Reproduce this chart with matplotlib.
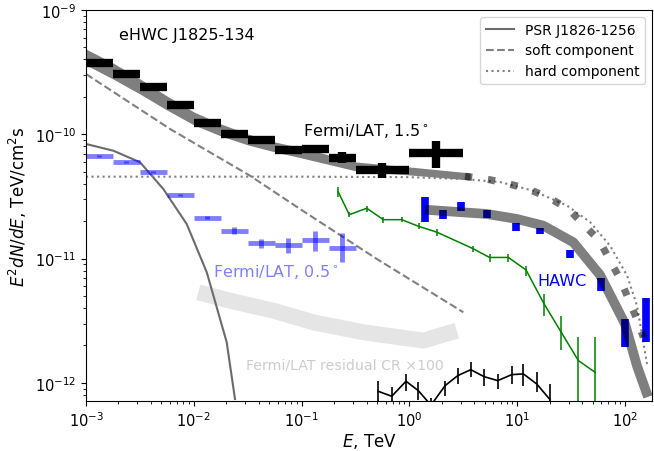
import matplotlib
matplotlib.use('Agg')
import matplotlib.pyplot as plt
import numpy as np

# all values below are log10(E / TeV) and log10(E^2 dN/dE / TeV cm^-2 s^-1)

# Fermi/LAT 1.5 deg (black)
lat15_lo = [-3, -2.75, -2.5, -2.25, -2.0, -1.75, -1.5, -1.25, -1.0, -0.75, -0.5, 0.0]
lat15_hi = [-2.75, -2.5, -2.25, -2.0, -1.75, -1.5, -1.25, -1.0, -0.75, -0.5, 0.0, 0.5]
lat15_y = [-9.426, -9.517, -9.619, -9.764, -9.909, -9.995, -10.043, -10.126, -10.116, -10.191, -10.285, -10.150]
lat15_up = [-9.41, -9.50, -9.60, -9.745, -9.89, -9.975, -10.02, -10.105, -10.09, -10.145, -10.231, -10.051]
lat15_dn = [-9.44, -9.53, -9.64, -9.785, -9.93, -10.015, -10.065, -10.15, -10.145, -10.233, -10.354, -10.271]

# Fermi/LAT 0.5 deg (light blue)
lat05_lo = [-3, -2.75, -2.5, -2.25, -2.0, -1.75, -1.5, -1.25, -1.0, -0.75]
lat05_hi = [-2.75, -2.5, -2.25, -2.0, -1.75, -1.5, -1.25, -1.0, -0.75, -0.5]
lat05_y = [-10.177, -10.220, -10.306, -10.486, -10.671, -10.776, -10.875, -10.891, -10.850, -10.915]
lat05_up = [-10.168, -10.212, -10.298, -10.478, -10.660, -10.748, -10.842, -10.837, -10.776, -10.794]
lat05_dn = [-10.186, -10.228, -10.314, -10.494, -10.682, -10.802, -10.917, -10.955, -10.936, -11.025]

# HAWC
hawc_x = [0.140, 0.309, 0.474, 0.724, 0.987, 1.211, 1.490, 1.773, 2.000, 2.195]
hawc_up = [-10.507, -10.607, -10.542, -10.607, -10.716, -10.756, -10.928, -11.156, -11.486, -11.319]
hawc_dn = [-10.703, -10.681, -10.615, -10.676, -10.776, -10.802, -10.998, -11.258, -11.709, -11.673]

# green spectrum
grn_x = [-0.660, -0.558, -0.396, -0.242, -0.071, 0.089, 0.256, 0.587, 0.743, 0.918, 1.082, 1.244, 1.406, 1.567, 1.722]
grn_y = [-10.464, -10.647, -10.595, -10.687, -10.687, -10.742, -10.788, -10.919, -10.991, -10.991, -11.092, -11.357, -11.590, -11.821, -11.915]
grn_up = [-10.424, -10.627, -10.574, -10.668, -10.663, -10.716, -10.762, -10.896, -10.963, -10.963, -11.057, -11.285, -11.459, -11.631, -11.631]
grn_dn = [-10.504, -10.667, -10.623, -10.714, -10.703, -10.762, -10.816, -10.949, -11.025, -11.025, -11.138, -11.459, -11.733, -15.0, -15.0]

# black spectrum at the bottom
blk_x = [-0.289, -0.164, -0.032, 0.083, 0.200, 0.330, 0.448, 0.569, 0.692, 0.819, 0.949, 1.057, 1.181, 1.304]
blk_y = [-12.068, -12.108, -11.987, -12.063, -12.18, -12.023, -11.942, -11.894, -11.950, -11.982, -11.934, -11.928, -12.009, -12.135]
blk_up = [-11.982, -12.035, -11.928, -11.995, -12.12, -11.982, -11.883, -11.834, -11.888, -11.928, -11.862, -11.848, -11.915, -12.009]
blk_dn = [-12.146, -12.146, -12.063, -12.135, -12.3, -12.103, -12.009, -11.955, -12.023, -12.049, -12.009, -12.023, -12.076, -12.143]

# model components
psr_x = [-3, -2.747, -2.499, -2.283, -2.066, -1.880, -1.695, -1.618]
psr_y = [-10.078, -10.132, -10.225, -10.440, -10.722, -11.110, -11.673, -12.13]
soft_x = [-3, -2.221, -1.479, -1.015, -0.303, 0.500]
soft_y = [-9.515, -9.957, -10.333, -10.601, -11.003, -11.432]
hard_x = [-3, -1, 0, 0.5, 0.84, 1.147, 1.462, 1.675, 1.861, 2.019, 2.111, 2.204]
hard_y = [-10.341, -10.341, -10.345, -10.36, -10.384, -10.454, -10.574, -10.706, -10.896, -11.138, -11.379, -11.848]

# total model, Fermi range (band)
tot_x = [-3, -2.75, -2.499, -2.249, -1.998, -1.748, -1.497, -1.247, -0.997, -0.495, 0.0, 0.562]
tot_hi = [-9.314, -9.426, -9.555, -9.692, -9.821, -9.917, -9.998, -10.062, -10.110, -10.223, -10.263, -10.311]
tot_lo = [-9.442, -9.555, -9.676, -9.805, -9.925, -10.014, -10.086, -10.142, -10.191, -10.295, -10.327, -10.368]
# total model extrapolated (thick dotted)
ext_x = [0.516, 0.741, 0.927, 1.119, 1.304, 1.474, 1.620, 1.762, 1.861, 1.954, 2.031, 2.108, 2.170]
ext_y = [-10.338, -10.365, -10.400, -10.446, -10.515, -10.601, -10.730, -10.856, -11.017, -11.164, -11.325, -11.486, -11.633]
# model through HAWC
hm_x = [0.145, 0.717, 0.995, 1.242, 1.520, 1.768, 2.000, 2.111, 2.213]
hm_y = [-10.607, -10.641, -10.681, -10.735, -10.869, -11.132, -11.526, -11.864, -12.113]
# Fermi/LAT residual CR x100
cr_x = [-1.958, -1.664, -1.263, -0.891, -0.428, 0.129, 0.439]
cr_y = [-11.271, -11.339, -11.419, -11.513, -11.593, -11.660, -11.580]


def p(a):
    return 10 ** np.asarray(a, dtype=float)


def bins(lo, hi, y, up, dn):
    x = p((np.asarray(lo) + np.asarray(hi)) / 2)
    xerr = [x - p(lo), p(hi) - x]
    yv = p(y)
    yerr = [yv - p(dn), p(up) - yv]
    return x, yv, xerr, yerr


fig = plt.figure(figsize=(6.54, 4.52), dpi=100)
ax = fig.add_axes([86 / 654, 50 / 452, 566 / 654, 391 / 452])
ax.set_xscale('log')
ax.set_yscale('log')

ax.plot(p(cr_x), p(cr_y), color='k', alpha=0.1, lw=11.5, solid_capstyle='butt')

ax.plot(p(psr_x), p(psr_y), color='0.42', lw=1.5, label='PSR J1826-1256')
ax.plot(p(soft_x), p(soft_y), color='0.5', lw=1.5, ls='--', label='soft component')
ax.plot(p(hard_x), p(hard_y), color='0.5', lw=1.5, ls=':', label='hard component')

x, y, xe, ye = bins(lat05_lo, lat05_hi, lat05_y, lat05_up, lat05_dn)
ax.errorbar(x, y, xerr=xe, yerr=ye, fmt='none', ecolor='b', alpha=0.5, elinewidth=3.5)

ax.fill_between(p(tot_x), p(tot_lo), p(tot_hi), color='k', alpha=0.5, lw=0)

x, y, xe, ye = bins(lat15_lo, lat15_hi, lat15_y, lat15_up, lat15_dn)
ax.errorbar(x, y, xerr=xe, yerr=ye, fmt='none', ecolor='k', elinewidth=6)

hv = np.sqrt(p(hawc_up) * p(hawc_dn))
ax.errorbar(p(hawc_x), hv, yerr=[hv - p(hawc_dn), p(hawc_up) - hv], fmt='none', ecolor='b', elinewidth=5.5)

ax.plot(p(hm_x), p(hm_y), color='k', alpha=0.5, lw=7, solid_capstyle='butt')
ax.plot(p(ext_x), p(ext_y), color='k', alpha=0.55, lw=5.2, ls=(0, (1, 2.2)))

gy = p(grn_y)
ax.errorbar(p(grn_x), gy, yerr=[gy - p(grn_dn), p(grn_up) - gy], color='g', lw=1.1, elinewidth=1.1)
by = p(blk_y)
ax.errorbar(p(blk_x), by, yerr=[by - p(blk_dn), p(blk_up) - by], color='k', lw=1.2, elinewidth=1.2)

ax.text(0.058, 0.926, 'eHWC J1825-134', transform=ax.transAxes, fontsize=11.5)
ax.text(0.383, 0.680, r'Fermi/LAT, 1.5$^\circ$', transform=ax.transAxes, fontsize=11.5)
ax.text(0.224, 0.320, r'Fermi/LAT, 0.5$^\circ$', transform=ax.transAxes, fontsize=11.5,
        color='b', alpha=0.5)
ax.text(0.797, 0.297, 'HAWC', transform=ax.transAxes, fontsize=11.5, color='b')
ax.text(0.283, 0.084, 'Fermi/LAT residual CR \u00d7100', transform=ax.transAxes, fontsize=10.2,
        color='k', alpha=0.2)

ax.set_xlim(1e-3, 10 ** 2.25)
ax.set_ylim(10 ** -12.146, 1e-9)
ax.set_xlabel('$E$, TeV', fontsize=12, labelpad=1)
ax.set_ylabel('$E^2dN/dE$, TeV/cm$^2$s', fontsize=12)
ax.tick_params(labelsize=10.5)
ax.legend(loc='upper right', fontsize=10)

fig.savefig('out.png', dpi=100)
